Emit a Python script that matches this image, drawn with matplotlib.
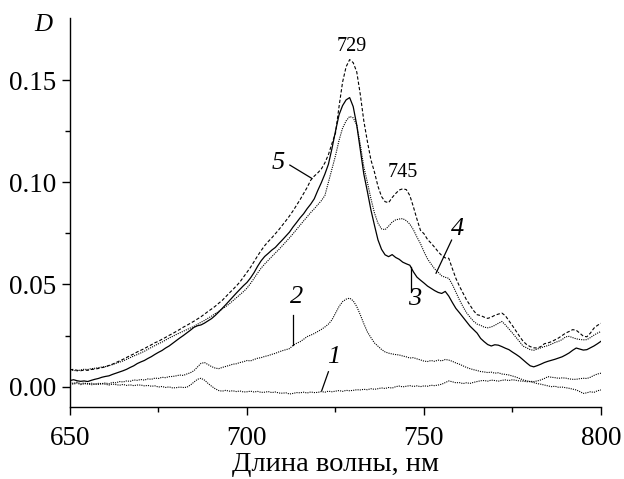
import numpy as np
import matplotlib
matplotlib.use("Agg")
import matplotlib.pyplot as plt
from matplotlib.ticker import FixedLocator

# Absorption spectra, optical density D vs wavelength (nm), 1 nm step
wavelength = np.arange(650, 801, 1)

curve1 = [
    0.0016, 0.0012, 0.0018, 0.0010, 0.0014, 0.0015, 0.0009, 0.0013, 0.0011, 0.0014,
    0.0012, 0.0008, 0.0013, 0.0010, 0.0007, 0.0011, 0.0006, 0.0009, 0.0005, 0.0008,
    0.0008, 0.0004, 0.0006, 0.0002, 0.0004, -0.0002, 0.0001, -0.0004, -0.0001, -0.0006,
    -0.0005, -0.0002, -0.0004, -0.0003, 0.0008, 0.0022, 0.0036, 0.0041, 0.0032, 0.0016,
    0.0002, -0.0010, -0.0019, -0.0022, -0.0018, -0.0022, -0.0020, -0.0024, -0.0021, -0.0026,
    -0.0025, -0.0022, -0.0026, -0.0023, -0.0028, -0.0027, -0.0024, -0.0029, -0.0026, -0.0031,
    -0.0032, -0.0030, -0.0036, -0.0033, -0.0029, -0.0030, -0.0027, -0.0031, -0.0026, -0.0029,
    -0.0028, -0.0024, -0.0027, -0.0022, -0.0025, -0.0022, -0.0019, -0.0023, -0.0018, -0.0020,
    -0.0018, -0.0015, -0.0016, -0.0013, -0.0015, -0.0010, -0.0013, -0.0010, -0.0006, -0.0009,
    -0.0004, -0.0007, 0.0000, 0.0003, -0.0001, 0.0002, 0.0005, 0.0001, 0.0004, 0.0000,
    0.0004, 0.0002, 0.0007, 0.0005, 0.0008, 0.0012, 0.0020, 0.0028, 0.0024, 0.0019,
    0.0020, 0.0015, 0.0019, 0.0016, 0.0021, 0.0025, 0.0029, 0.0030, 0.0027, 0.0032,
    0.0030, 0.0027, 0.0031, 0.0033, 0.0030, 0.0034, 0.0031, 0.0028, 0.0027, 0.0024,
    0.0026, 0.0025, 0.0028, 0.0033, 0.0040, 0.0049, 0.0046, 0.0044, 0.0041, 0.0043,
    0.0042, 0.0038, 0.0036, 0.0036, 0.0039, 0.0041, 0.0040, 0.0046, 0.0055, 0.0062,
    0.0066,
]

curve2 = [
    0.0020, 0.0016, 0.0022, 0.0014, 0.0018, 0.0013, 0.0017, 0.0012, 0.0016, 0.0015,
    0.0018, 0.0014, 0.0021, 0.0019, 0.0025, 0.0023, 0.0028, 0.0026, 0.0033, 0.0031,
    0.0035, 0.0032, 0.0038, 0.0036, 0.0042, 0.0040, 0.0046, 0.0044, 0.0049, 0.0050,
    0.0053, 0.0057, 0.0055, 0.0062, 0.0068, 0.0078, 0.0096, 0.0114, 0.0118, 0.0108,
    0.0098, 0.0091, 0.0088, 0.0094, 0.0099, 0.0104, 0.0110, 0.0112, 0.0118, 0.0122,
    0.0128, 0.0126, 0.0133, 0.0139, 0.0142, 0.0148, 0.0152, 0.0158, 0.0163, 0.0170,
    0.0176, 0.0181, 0.0186, 0.0202, 0.0212, 0.0220, 0.0232, 0.0245, 0.0252, 0.0260,
    0.0270, 0.0280, 0.0292, 0.0306, 0.0327, 0.0360, 0.0392, 0.0416, 0.0428, 0.0433,
    0.0420, 0.0392, 0.0352, 0.0308, 0.0268, 0.0240, 0.0214, 0.0198, 0.0182, 0.0170,
    0.0164, 0.0160, 0.0157, 0.0155, 0.0150, 0.0146, 0.0140, 0.0142, 0.0136, 0.0131,
    0.0125, 0.0123, 0.0128, 0.0124, 0.0130, 0.0126, 0.0133, 0.0130, 0.0124, 0.0116,
    0.0110, 0.0102, 0.0094, 0.0088, 0.0083, 0.0079, 0.0074, 0.0072, 0.0069, 0.0071,
    0.0066, 0.0068, 0.0062, 0.0060, 0.0057, 0.0052, 0.0047, 0.0040, 0.0033, 0.0029,
    0.0024, 0.0020, 0.0015, 0.0012, 0.0008, 0.0004, 0.0000, 0.0002, -0.0003, -0.0002,
    -0.0005, -0.0008, -0.0012, -0.0016, -0.0024, -0.0033, -0.0030, -0.0025, -0.0028, -0.0020,
    -0.0016,
]

curve3 = [
    0.0030, 0.0034, 0.0029, 0.0026, 0.0028, 0.0025, 0.0031, 0.0036, 0.0040, 0.0046,
    0.0050, 0.0053, 0.0060, 0.0066, 0.0072, 0.0078, 0.0085, 0.0094, 0.0102, 0.0113,
    0.0121, 0.0128, 0.0138, 0.0147, 0.0158, 0.0168, 0.0177, 0.0189, 0.0199, 0.0212,
    0.0225, 0.0238, 0.0250, 0.0263, 0.0276, 0.0290, 0.0298, 0.0302, 0.0311, 0.0322,
    0.0333, 0.0348, 0.0365, 0.0383, 0.0401, 0.0420, 0.0439, 0.0458, 0.0476, 0.0494,
    0.0510, 0.0532, 0.0558, 0.0589, 0.0616, 0.0637, 0.0652, 0.0668, 0.0681, 0.0700,
    0.0718, 0.0737, 0.0756, 0.0781, 0.0803, 0.0826, 0.0846, 0.0871, 0.0893, 0.0919,
    0.0960, 0.0998, 0.1040, 0.1088, 0.1165, 0.1250, 0.1330, 0.1375, 0.1403, 0.1414,
    0.1370, 0.1280, 0.1160, 0.1040, 0.0955, 0.0865, 0.0790, 0.0718, 0.0672, 0.0645,
    0.0636, 0.0646, 0.0632, 0.0623, 0.0609, 0.0601, 0.0594, 0.0562, 0.0536, 0.0521,
    0.0507, 0.0492, 0.0481, 0.0470, 0.0461, 0.0456, 0.0466, 0.0443, 0.0412, 0.0383,
    0.0362, 0.0340, 0.0318, 0.0296, 0.0279, 0.0262, 0.0236, 0.0220, 0.0206, 0.0199,
    0.0205, 0.0203, 0.0196, 0.0188, 0.0181, 0.0169, 0.0158, 0.0146, 0.0131, 0.0116,
    0.0102, 0.0097, 0.0103, 0.0110, 0.0118, 0.0124, 0.0129, 0.0134, 0.0140, 0.0146,
    0.0155, 0.0165, 0.0178, 0.0189, 0.0184, 0.0179, 0.0181, 0.0190, 0.0199, 0.0210,
    0.0222,
]

curve4 = [
    0.0078, 0.0080, 0.0077, 0.0082, 0.0085, 0.0084, 0.0088, 0.0090, 0.0093, 0.0096,
    0.0098, 0.0102, 0.0108, 0.0114, 0.0120, 0.0126, 0.0134, 0.0142, 0.0150, 0.0157,
    0.0165, 0.0173, 0.0183, 0.0192, 0.0201, 0.0210, 0.0218, 0.0228, 0.0238, 0.0246,
    0.0255, 0.0263, 0.0271, 0.0279, 0.0287, 0.0295, 0.0305, 0.0315, 0.0324, 0.0335,
    0.0345, 0.0357, 0.0368, 0.0380, 0.0392, 0.0405, 0.0420, 0.0435, 0.0450, 0.0465,
    0.0482, 0.0505, 0.0530, 0.0556, 0.0580, 0.0600, 0.0618, 0.0636, 0.0654, 0.0671,
    0.0690, 0.0709, 0.0728, 0.0748, 0.0769, 0.0790, 0.0811, 0.0831, 0.0852, 0.0870,
    0.0890, 0.0910, 0.0935, 0.1000, 0.1065, 0.1130, 0.1205, 0.1265, 0.1300, 0.1322,
    0.1315, 0.1280, 0.1185, 0.1075, 0.1000, 0.0920, 0.0850, 0.0800, 0.0772, 0.0768,
    0.0785, 0.0805, 0.0816, 0.0820, 0.0822, 0.0812, 0.0795, 0.0768, 0.0732, 0.0700,
    0.0660, 0.0625, 0.0600, 0.0576, 0.0560, 0.0542, 0.0535, 0.0530, 0.0500, 0.0462,
    0.0425, 0.0392, 0.0362, 0.0340, 0.0320, 0.0306, 0.0300, 0.0291, 0.0288, 0.0292,
    0.0300, 0.0310, 0.0319, 0.0302, 0.0282, 0.0262, 0.0241, 0.0220, 0.0198, 0.0190,
    0.0181, 0.0178, 0.0184, 0.0190, 0.0196, 0.0201, 0.0208, 0.0216, 0.0222, 0.0230,
    0.0244, 0.0246, 0.0240, 0.0234, 0.0231, 0.0229, 0.0230, 0.0240, 0.0252, 0.0262,
    0.0270,
]

curve5 = [
    0.0082, 0.0085, 0.0080, 0.0078, 0.0081, 0.0080, 0.0084, 0.0086, 0.0089, 0.0093,
    0.0097, 0.0104, 0.0110, 0.0118, 0.0126, 0.0134, 0.0143, 0.0152, 0.0160, 0.0170,
    0.0178, 0.0186, 0.0196, 0.0205, 0.0215, 0.0222, 0.0232, 0.0241, 0.0251, 0.0260,
    0.0270, 0.0280, 0.0291, 0.0300, 0.0310, 0.0320, 0.0331, 0.0342, 0.0355, 0.0368,
    0.0380, 0.0393, 0.0408, 0.0422, 0.0440, 0.0458, 0.0475, 0.0493, 0.0512, 0.0536,
    0.0560, 0.0584, 0.0612, 0.0640, 0.0666, 0.0690, 0.0710, 0.0728, 0.0748, 0.0768,
    0.0790, 0.0812, 0.0835, 0.0860, 0.0887, 0.0915, 0.0945, 0.0975, 0.1010, 0.1030,
    0.1046, 0.1065, 0.1095, 0.1135, 0.1190, 0.1240, 0.1370, 0.1490, 0.1565, 0.1600,
    0.1585, 0.1540, 0.1430, 0.1300, 0.1200, 0.1110, 0.1050, 0.0980, 0.0930, 0.0905,
    0.0900, 0.0925, 0.0945, 0.0962, 0.0968, 0.0964, 0.0935, 0.0880, 0.0820, 0.0765,
    0.0748, 0.0720, 0.0702, 0.0682, 0.0660, 0.0642, 0.0630, 0.0628, 0.0578, 0.0530,
    0.0492, 0.0458, 0.0425, 0.0398, 0.0372, 0.0352, 0.0348, 0.0340, 0.0334, 0.0340,
    0.0349, 0.0355, 0.0360, 0.0347, 0.0322, 0.0298, 0.0272, 0.0246, 0.0222, 0.0206,
    0.0196, 0.0190, 0.0189, 0.0196, 0.0210, 0.0214, 0.0220, 0.0229, 0.0238, 0.0250,
    0.0262, 0.0270, 0.0279, 0.0276, 0.0262, 0.0247, 0.0244, 0.0262, 0.0286, 0.0300,
    0.0310,
]

x_ticks = [650, 700, 750, 800]
y_ticks = [0.00, 0.05, 0.10, 0.15]
y_tick_labels = ["0.00", "0.05", "0.10", "0.15"]
peak_labels = ["729", "745"]

SERIF = "Liberation Serif"
plt.rcParams["font.family"] = SERIF

fig = plt.figure(figsize=(6.24, 4.79), dpi=100)
ax = fig.add_axes([70 / 624, 1 - 406.7 / 479, 531 / 624, 388.4 / 479])

dotted = (0, (1.0, 1.0))
ax.plot(wavelength, curve1, color="black", lw=0.8, linestyle=dotted)
ax.plot(wavelength, curve2, color="black", lw=0.8, linestyle=dotted)
ax.plot(wavelength, curve3, color="black", lw=0.9, linestyle="-")
ax.plot(wavelength, curve4, color="black", lw=0.8, linestyle=dotted)
ax.plot(wavelength, curve5, color="black", lw=0.8, linestyle=(0, (3.0, 1.8)))

ax.set_xlim(650, 800)
ax.set_ylim(-0.0098, 0.1802)

for side in ("top", "right"):
    ax.spines[side].set_visible(False)
for side in ("left", "bottom"):
    ax.spines[side].set_linewidth(1.0)

ax.xaxis.set_major_locator(FixedLocator(x_ticks))
ax.xaxis.set_minor_locator(FixedLocator([675, 725, 775]))
ax.yaxis.set_major_locator(FixedLocator(y_ticks))
ax.yaxis.set_minor_locator(FixedLocator([0.025, 0.075, 0.125]))
ax.set_yticklabels(y_tick_labels)
ax.tick_params(which="major", direction="out", length=6, width=1.0,
               labelsize=19.5, pad=4)
ax.tick_params(axis="x", which="major", pad=8)
ax.tick_params(which="minor", direction="out", length=3.5, width=1.0)

ax.set_xlabel("Длина волны, нм", fontsize=20.5)
ax.xaxis.set_label_coords(0.5, -0.150)
ax.xaxis.label.set_va("center")

ax.text(-0.051, 0.983, "D", transform=ax.transAxes, fontsize=18,
        style="italic", ha="center", va="center")

# peak positions
ax.text(729.6, 0.1666, peak_labels[0], fontsize=14.5, ha="center", va="center")
ax.text(744.1, 0.1050, peak_labels[1], fontsize=14.5, ha="center", va="center")

# curve numbers with leader lines
labels = [
    ("1", (724.4, 0.0143), (723.0, 0.0073), (721.1, -0.0020)),
    ("2", (714.0, 0.0441), (713.1, 0.0351), (713.1, 0.0204)),
    ("3", (747.5, 0.0429), (746.2, 0.0587), (746.2, 0.0465)),
    ("4", (759.6, 0.0771), (757.8, 0.0717), (753.4, 0.0555)),
    ("5", (708.8, 0.1094), (712.1, 0.1084), (718.3, 0.1019)),
]
for text, pos, p0, p1 in labels:
    ax.text(pos[0], pos[1], text, fontsize=19, style="italic",
            ha="center", va="center")
    ax.plot([p0[0], p1[0]], [p0[1], p1[1]], color="black", lw=0.9)

fig.savefig("out.png", dpi=100)
